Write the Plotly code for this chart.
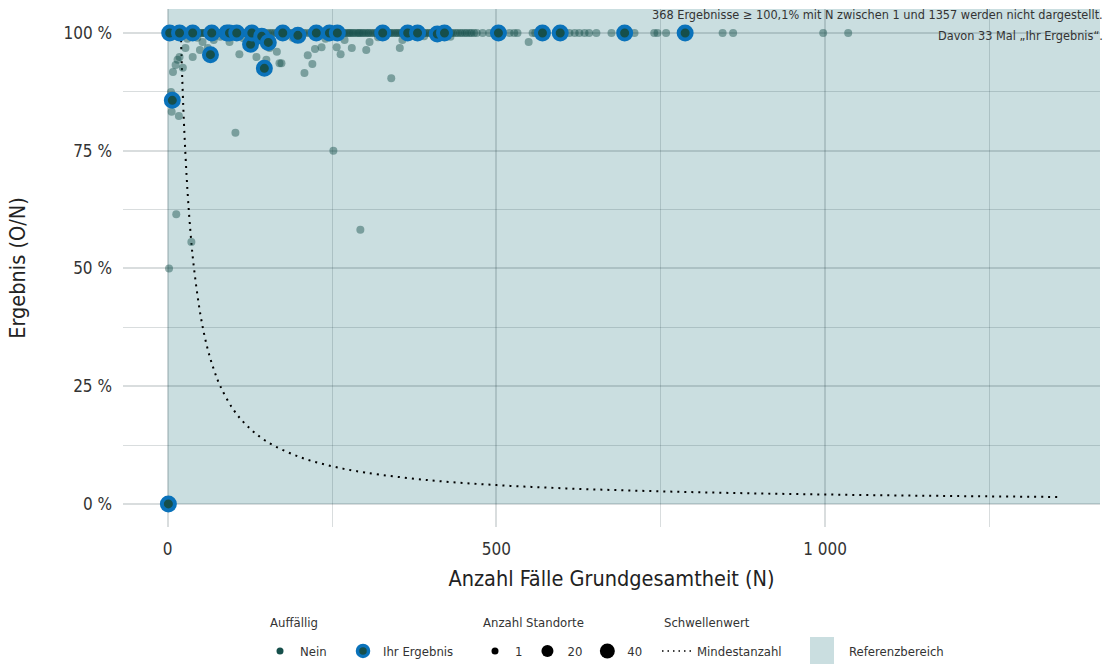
import plotly.graph_objects as go

# ---------------- data ----------------
# "Nein" results (not conspicuous): N and result in %
nein_n = [1, 2, 3, 4, 5, 6, 7, 9, 10, 11, 12, 14, 15, 16, 19, 21, 22, 24, 26, 28,
          30, 31, 33, 35, 37, 40, 42, 44, 46, 48, 51, 53, 55, 57, 59, 62, 64, 66, 69, 71,
          73, 76, 78, 80, 83, 85, 88, 91, 93, 96, 99, 101, 104, 107, 110, 113, 116, 119, 122, 125,
          129, 132, 135, 138, 141, 145, 148, 152, 156, 159, 163, 167, 171, 174, 178, 182, 186, 190, 194, 199,
          203, 207, 211, 216, 220, 225, 229, 233, 238, 243, 248, 252, 256, 261, 266, 271, 276, 281, 286, 291,
          296, 301, 306, 312, 318, 323, 329, 334, 339, 345, 350, 356, 362, 368, 374, 380, 386, 392, 398, 404,
          411, 417, 424, 431, 438, 445, 452, 459, 466, 479, 489, 508, 520, 527, 532, 555, 559, 611, 619, 626,
          634, 641, 652, 675, 710, 740, 745, 758, 844, 860, 997, 1035,
          254, 259, 264, 268, 274, 278, 283, 289, 293, 298, 304, 309, 315, 320, 326, 331, 337, 342, 348, 353,
          359, 365, 371, 377, 383, 389, 395, 401, 407, 414, 420, 427, 434, 441, 448, 455, 462, 470,
          2, 5, 6, 8, 12, 13, 15, 17, 18, 23, 27, 36, 38, 49, 53, 61, 94, 103, 109, 128,
          135, 150, 155, 166, 170, 173, 208, 213, 220, 224, 234, 252, 257, 263, 269, 280, 293, 302, 307, 340,
          353, 357, 549, 30, 45, 70, 80, 115, 190, 240, 320, 390, 430]
nein_pct = [100, 100, 100, 100, 100, 100, 100, 100, 100, 100, 100, 100, 100, 100, 100, 100, 100, 100, 100, 100,
            100, 100, 100, 100, 100, 100, 100, 100, 100, 100, 100, 100, 100, 100, 100, 100, 100, 100, 100, 100,
            100, 100, 100, 100, 100, 100, 100, 100, 100, 100, 100, 100, 100, 100, 100, 100, 100, 100, 100, 100,
            100, 100, 100, 100, 100, 100, 100, 100, 100, 100, 100, 100, 100, 100, 100, 100, 100, 100, 100, 100,
            100, 100, 100, 100, 100, 100, 100, 100, 100, 100, 100, 100, 100, 100, 100, 100, 100, 100, 100, 100,
            100, 100, 100, 100, 100, 100, 100, 100, 100, 100, 100, 100, 100, 100, 100, 100, 100, 100, 100, 100,
            100, 100, 100, 100, 100, 100, 100, 100, 100, 100, 100, 100, 100, 100, 100, 100, 100, 100, 100, 100,
            100, 100, 100, 100, 100, 100, 100, 100, 100, 100, 100, 100,
            100, 100, 100, 100, 100, 100, 100, 100, 100, 100, 100, 100, 100, 100, 100, 100, 100, 100, 100, 100,
            100, 100, 100, 100, 100, 100, 100, 100, 100, 100, 100, 100, 100, 100, 100, 100, 100, 100,
            50.0, 87.5, 83.3, 91.7, 93.2, 61.5, 94.3, 82.4, 94.9, 92.6, 96.8, 55.6, 94.9, 96.4, 98.1, 96.8, 98.1, 78.8, 95.5, 96.8,
            94.9, 94.3, 96.8, 96.0, 93.6, 93.6, 91.5, 95.3, 93.4, 96.6, 97.0, 75.0, 97.0, 95.5, 98.5, 96.8, 58.2, 96.4, 98.1, 90.4,
            96.8, 98.5, 98.1, 98.8, 99.0, 98.5, 99.2, 98.9, 99.0, 98.8, 99.1, 99.3, 99.2]

# "Ihr Ergebnis" results
ihr_n = [1, 7, 3, 18, 38, 65, 67, 90, 94, 105, 126, 128, 143, 147, 153, 175, 198, 226, 246, 258,
         327, 365, 380, 410, 421, 503, 570, 597, 695, 787]
ihr_pct = [0.0, 85.7, 100, 100, 100, 95.4, 100, 100, 100, 100, 97.6, 100, 99.3, 92.5, 98.0, 100, 99.5, 100, 100, 100,
           100, 100, 100, 99.8, 100, 100, 100, 100, 100, 100]

# Threshold curve "Mindestanzahl"
mind_n = [20, 22, 25, 30, 35, 40, 50, 60, 70, 80, 100, 120, 150, 200, 250, 300, 400, 500,
          600, 700, 800, 900, 1000, 1100, 1200, 1357]
mind_pct = [100, 90.9, 80, 66.7, 57.1, 50, 40, 33.3, 28.6, 25, 20, 16.7, 13.3, 10, 8, 6.67, 5, 4,
            3.33, 2.86, 2.5, 2.22, 2, 1.82, 1.67, 1.47]

x_tickvals = [0, 500, 1000]
x_ticktext = ["0", "500", "1 000"]
x_minor = [250, 750, 1250]
y_tickvals = [0, 25, 50, 75, 100]
y_ticktext = ["0 %", "25 %", "50 %", "75 %", "100 %"]
y_minor = [12.5, 37.5, 62.5, 87.5]
legend_standorte = [1, 20, 40]

note_line1 = "368 Ergebnisse ≥ 100,1% mit N zwischen 1 und 1357 werden nicht dargestellt."
note_line2 = "Davon 33 Mal „Ihr Ergebnis“."

# ---------------- style ----------------
FONT = "DejaVu Sans Condensed, Roboto, sans-serif"
DARK = "#164f4b"
BLUE = "#0a72ba"
REF = "#cadee0"
GRID = "rgba(20,45,50,0.16)"
TXT = "#333333"
SIZE_PX = {1: 8, 20: 13, 40: 16}

# plot area in pixels (for placing legend decorations)
L, R, T, B = 123, 1100, 9, 527


def px_x(p):
    return (p - L) / (R - L)


def px_y(p):
    return (B - p) / (B - T)


fig = go.Figure()

# threshold curve
fig.add_trace(go.Scatter(x=mind_n, y=mind_pct, mode="lines",
                         line=dict(color="black", width=2, dash="2px,5px", shape="spline"),
                         showlegend=False, hoverinfo="skip"))
# Nein points
fig.add_trace(go.Scatter(x=nein_n, y=nein_pct, mode="markers",
                         marker=dict(color=DARK, size=SIZE_PX[1], opacity=0.45, line=dict(width=0)),
                         showlegend=False))
# Ihr Ergebnis points
fig.add_trace(go.Scatter(x=ihr_n, y=ihr_pct, mode="markers",
                         marker=dict(color=DARK, size=SIZE_PX[1] + 5, line=dict(color=BLUE, width=4)),
                         showlegend=False))

# legend entries
fig.add_trace(go.Scatter(x=[None], y=[None], mode="markers", name="Nein", legend="legend",
                         marker=dict(color=DARK, size=7)))
fig.add_trace(go.Scatter(x=[None], y=[None], mode="markers", name="Ihr Ergebnis", legend="legend4",
                         marker=dict(color=DARK, size=11, line=dict(color=BLUE, width=3.5))))
for s in legend_standorte:
    fig.add_trace(go.Scatter(x=[None], y=[None], mode="markers", name=str(s), legend="legend2",
                             marker=dict(color="black", size=SIZE_PX[s] - 1)))
fig.add_trace(go.Scatter(x=[None], y=[None], mode="lines", name="Mindestanzahl", legend="legend3",
                         line=dict(color="black", width=1.5, dash="1.5px,4px")))

# reference area
fig.add_shape(type="rect", xref="x", yref="y", x0=0, x1=1e6, y0=0, y1=1e4,
              fillcolor=REF, line=dict(width=0), layer="below")
# legend swatch for reference area
fig.add_shape(type="rect", xref="paper", yref="paper", x0=px_x(810), x1=px_x(834),
              y0=px_y(664), y1=px_y(637), fillcolor=REF, line=dict(width=0))
fig.add_annotation(xref="paper", yref="paper", x=px_x(847), y=px_y(651),
                   text="Referenzbereich", showarrow=False, xanchor="left", yanchor="middle",
                   font=dict(size=13, color=TXT))

# legend titles
for txt, xp in [("Auffällig", 268), ("Anzahl Standorte", 481), ("Schwellenwert", 662)]:
    fig.add_annotation(xref="paper", yref="paper", x=px_x(xp), y=px_y(622), text=txt,
                       showarrow=False, xanchor="left", yanchor="middle", font=dict(size=13, color=TXT))

# note
fig.add_annotation(xref="paper", yref="paper", x=px_x(1105), y=px_y(15), text=note_line1,
                   showarrow=False, xanchor="right", yanchor="middle", font=dict(size=12.6, color=TXT))
fig.add_annotation(xref="paper", yref="paper", x=px_x(1105), y=px_y(35), text=note_line2,
                   showarrow=False, xanchor="right", yanchor="middle", font=dict(size=12.6, color=TXT))

leg_common = dict(xref="container", yref="container", xanchor="left", yanchor="middle", orientation="h",
                  font=dict(size=13, color=TXT), bgcolor="rgba(0,0,0,0)", itemsizing="trace",
                  y=1 - 651 / 664)

fig.update_layout(
    width=1111, height=664,
    margin=dict(l=L, r=1111 - R, t=T, b=664 - B),
    paper_bgcolor="white", plot_bgcolor="white",
    font=dict(family=FONT, size=13, color=TXT),
    xaxis=dict(range=[-68, 1418], tickmode="array", tickvals=x_tickvals, ticktext=x_ticktext,
               showgrid=True, gridcolor=GRID, gridwidth=1.6, zeroline=False, showline=False, ticks="",
               minor=dict(tickvals=x_minor, showgrid=True, gridcolor=GRID, gridwidth=1.2),
               tickfont=dict(size=17, color=TXT), ticklabelstandoff=10,
               title=dict(text="Anzahl Fälle Grundgesamtheit (N)", font=dict(size=21.5, color="#222"), standoff=12),
               automargin=False),
    yaxis=dict(range=[-4.9, 105.1], tickmode="array", tickvals=y_tickvals, ticktext=y_ticktext,
               showgrid=True, gridcolor=GRID, gridwidth=1.6, zeroline=False, showline=False, ticks="",
               minor=dict(tickvals=y_minor, showgrid=True, gridcolor=GRID, gridwidth=1.2),
               tickfont=dict(size=17, color=TXT), ticklabelstandoff=10,
               title=dict(text="Ergebnis (O/N)", font=dict(size=21.5, color="#222"), standoff=31),
               automargin=False),
    legend=dict(x=260 / 1111, **leg_common),
    legend4=dict(x=343 / 1111, **leg_common),
    legend2=dict(x=475 / 1111, **leg_common),
    legend3=dict(x=657 / 1111, **leg_common),
    showlegend=True,
)

fig.write_html("out.html", config={"displayModeBar": False},
               post_script="document.body.style.margin='0px';")
